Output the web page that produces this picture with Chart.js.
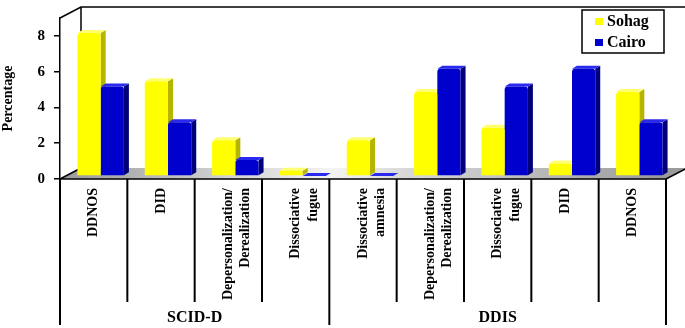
<!DOCTYPE html>
<html>
<head>
<meta charset="utf-8">
<script src="https://cdn.jsdelivr.net/npm/chart.js@4.4.0/dist/chart.umd.min.js"></script>
<style>
  html, body { margin: 0; padding: 0; background: #fff; }
  #wrap { width: 685px; height: 328px; }
</style>
</head>
<body>
<div id="wrap"><canvas id="chart"></canvas></div>
<script>
// data
const categories = [
    ['DDNOS'], ['DID'], ['Depersonalization/', 'Derealization'], ['Dissociative', 'fugue'],
    ['Dissociative', 'amnesia'], ['Depersonalization/', 'Derealization'], ['Dissociative', 'fugue'], ['DID'], ['DDNOS']
];
const groups = ['SCID-D', 'DDIS'];
const groupSizes = [4, 5];
const sohag = [8, 5.3, 2, 0.3, 2, 4.7, 2.7, 0.7, 4.7];
const cairo = [5, 3, 0.9, 0, 0, 6, 5, 6, 3];
const yTicks = [0, 2, 4, 6, 8];

const FONT = 'Liberation Serif, Times New Roman, serif';

// 3D look: bars sit a bit behind the front plane, walls further back
const barShift = { x: 7, y: -3 };
const wallShift = { x: 21, y: -11 };
const side = { x: 5, y: -3 };

const sideColors = ['#b5b500', '#00007a'];
const topColors = ['#ffff70', '#2a2aee'];

const walls3d = {
    id: 'walls3d',
    beforeDatasetsDraw(chart) {
        const { ctx, chartArea: a } = chart;
        ctx.save();
        // floor
        const g = ctx.createLinearGradient(a.left, 0, a.right, 0);
        g.addColorStop(0, '#9a9a9a');
        g.addColorStop(0.45, '#f4f4f4');
        g.addColorStop(0.55, '#dcdcdc');
        g.addColorStop(1, '#9a9a9a');
        ctx.fillStyle = g;
        ctx.beginPath();
        ctx.moveTo(a.left, a.bottom);
        ctx.lineTo(a.right, a.bottom);
        ctx.lineTo(a.right + wallShift.x, a.bottom + wallShift.y);
        ctx.lineTo(a.left + wallShift.x, a.bottom + wallShift.y);
        ctx.closePath();
        ctx.fill();
        // wall outlines
        ctx.strokeStyle = '#000';
        ctx.lineWidth = 1.5;
        ctx.beginPath();
        ctx.moveTo(a.left, a.top);
        ctx.lineTo(a.left + wallShift.x, a.top + wallShift.y);
        ctx.lineTo(a.right + wallShift.x, a.top + wallShift.y);
        ctx.lineTo(a.right + wallShift.x, a.bottom + wallShift.y);
        ctx.lineTo(a.right, a.bottom);
        ctx.moveTo(a.left + wallShift.x, a.top + wallShift.y);
        ctx.lineTo(a.left + wallShift.x, a.bottom + wallShift.y);
        ctx.moveTo(a.left, a.bottom);
        ctx.lineTo(a.left + wallShift.x, a.bottom + wallShift.y);
        ctx.moveTo(a.left, a.bottom);
        ctx.lineTo(a.right, a.bottom);
        ctx.stroke();

        // shift the bar plane back, then draw side and top faces under the fronts
        ctx.translate(barShift.x, barShift.y);
        chart.data.datasets.forEach((ds, i) => {
            chart.getDatasetMeta(i).data.forEach(bar => {
                const x1 = bar.x - bar.width / 2, x2 = bar.x + bar.width / 2;
                const top = bar.y, base = bar.base;
                ctx.fillStyle = sideColors[i];
                ctx.beginPath();
                ctx.moveTo(x2, top);
                ctx.lineTo(x2 + side.x, top + side.y);
                ctx.lineTo(x2 + side.x, base + side.y);
                ctx.lineTo(x2, base);
                ctx.closePath();
                ctx.fill();
                ctx.fillStyle = topColors[i];
                ctx.beginPath();
                ctx.moveTo(x1, top);
                ctx.lineTo(x1 + side.x, top + side.y);
                ctx.lineTo(x2 + side.x, top + side.y);
                ctx.lineTo(x2, top);
                ctx.closePath();
                ctx.fill();
            });
        });
    },
    afterDatasetsDraw(chart) {
        chart.ctx.restore();
    }
};

const groupAxis = {
    id: 'groupAxis',
    afterDraw(chart) {
        const { ctx, chartArea: a, scales: { x } } = chart;
        const n = categories.length;
        const edges = [a.left];
        for (let i = 0; i < n - 1; i++) {
            edges.push((x.getPixelForValue(i) + x.getPixelForValue(i + 1)) / 2);
        }
        edges.push(a.right);

        const groupEdges = [0];
        groupSizes.forEach(s => groupEdges.push(groupEdges[groupEdges.length - 1] + s));

        ctx.save();
        ctx.strokeStyle = '#000';
        ctx.lineWidth = 2;
        edges.forEach((px, i) => {
            const isGroup = groupEdges.includes(i);
            ctx.beginPath();
            ctx.moveTo(px, a.bottom);
            ctx.lineTo(px, isGroup ? 325 : 302);
            ctx.stroke();
        });
        ctx.fillStyle = '#000';
        ctx.font = 'bold 16px ' + FONT;
        ctx.textAlign = 'center';
        ctx.textBaseline = 'middle';
        groups.forEach((g, k) => {
            const cx = (edges[groupEdges[k]] + edges[groupEdges[k + 1]]) / 2;
            ctx.fillText(g, cx, 318);
        });

        // legend box
        const bx = 582, by = 10, bw = 82, bh = 43;
        ctx.fillStyle = '#fff';
        ctx.fillRect(bx, by, bw, bh);
        ctx.lineWidth = 1.5;
        ctx.strokeRect(bx, by, bw, bh);
        ctx.font = 'bold 16px ' + FONT;
        ctx.textAlign = 'left';
        chart.data.datasets.forEach((ds, i) => {
            const cy = by + 12 + i * 21;
            ctx.fillStyle = ds.backgroundColor;
            ctx.fillRect(bx + 13, cy - 4, 8, 7);
            ctx.fillStyle = '#000';
            ctx.fillText(ds.label, bx + 25, cy);
        });
        ctx.restore();
    }
};

new Chart(document.getElementById('chart'), {
    type: 'bar',
    data: {
        labels: categories,
        datasets: [
            { label: 'Sohag', data: sohag, backgroundColor: '#ffff00', borderRadius: { topLeft: 3, topRight: 3 }, borderSkipped: 'bottom', clip: false },
            { label: 'Cairo', data: cairo, backgroundColor: '#0000cc', borderRadius: { topLeft: 3, topRight: 3 }, borderSkipped: 'bottom', clip: false }
        ]
    },
    options: {
        responsive: true,
        maintainAspectRatio: false,
        animation: false,
        layout: { padding: { top: 15, right: 19, left: 0, bottom: 0 } },
        datasets: { bar: { categoryPercentage: 0.69, barPercentage: 1.0 } },
        plugins: {
            legend: { display: false },
            tooltip: { enabled: false }
        },
        scales: {
            x: {
                grid: { display: false },
                border: { display: false },
                ticks: {
                    autoSkip: false,
                    maxRotation: 90,
                    minRotation: 90,
                    padding: 1,
                    color: '#000',
                    font: { family: FONT, weight: 'bold', size: 14, lineHeight: 1.25 }
                },
                afterFit: s => { s.height = 149; }
            },
            y: {
                min: 0,
                max: 9,
                afterBuildTicks: s => { s.ticks = yTicks.map(v => ({ value: v })); },
                grid: { drawOnChartArea: false, tickLength: 6, color: '#000', lineWidth: 1.5 },
                border: { color: '#000', width: 1.5 },
                ticks: { color: '#000', padding: 9, font: { family: FONT, weight: 'bold', size: 15 } },
                title: { display: true, text: 'Percentage', color: '#000', padding: { top: 0, bottom: 0 }, font: { family: FONT, weight: 'bold', size: 14 } },
                afterFit: s => { s.width = 60; }
            }
        }
    },
    plugins: [walls3d, groupAxis]
});
</script>
</body>
</html>
